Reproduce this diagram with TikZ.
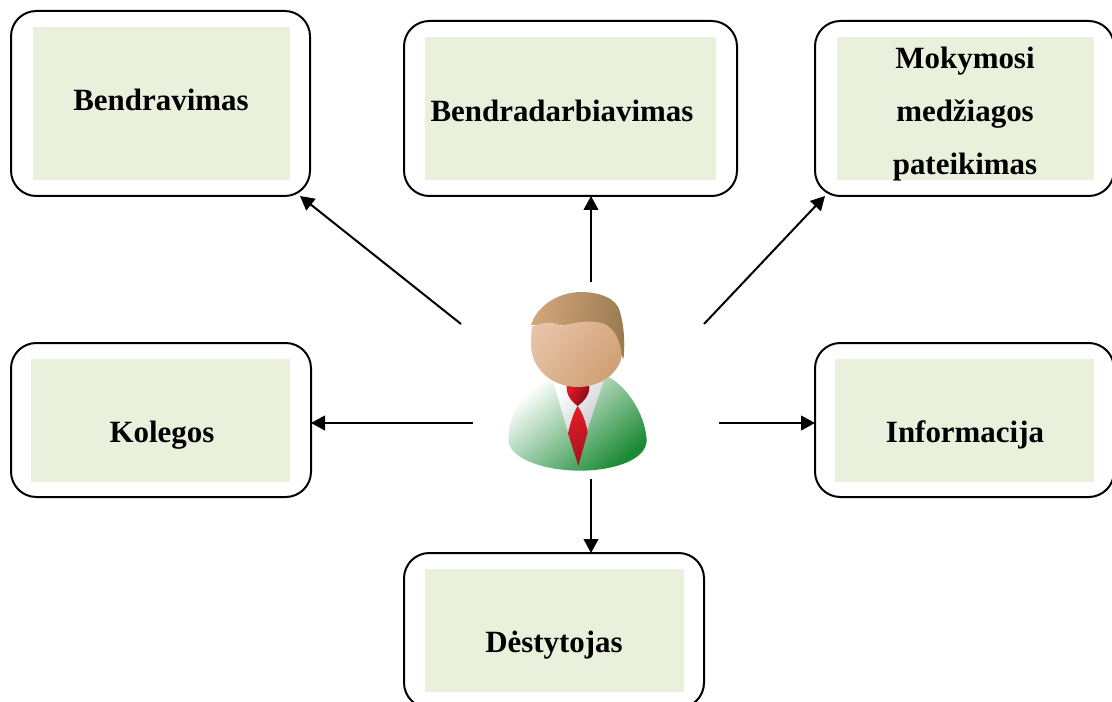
\documentclass[tikz,border=0pt]{standalone}
\usepackage{fontspec}
\setmainfont{Liberation Serif}
\usetikzlibrary{arrows.meta,calc}
\definecolor{innerfill}{HTML}{E9F0DC}
\definecolor{suit}{HTML}{1A8A34}
\definecolor{collargrey}{HTML}{B8BAC0}
\definecolor{tiedark}{HTML}{7E0A14}
\definecolor{tielight}{HTML}{E01A28}
\definecolor{tiemid}{HTML}{A81520}
\definecolor{hairlight}{HTML}{D2A67C}
\definecolor{hairdark}{HTML}{9A7A50}
\definecolor{facelight}{HTML}{E6C2A6}
\definecolor{facedark}{HTML}{CFA074}
\tikzset{
  outerbox/.style={draw=black,line width=1.5pt,rounded corners=19pt,fill=white,inner sep=0pt,outer sep=0pt},
  innerbox/.style={fill=innerfill,inner sep=0pt,outer sep=0pt},
  boxlabel/.style={font=\fontsize{23.2}{40}\selectfont\bfseries,align=center,inner sep=0pt,text=black},
  conn/.style={line width=1.5pt,-{Triangle[length=10.5pt,width=11pt]}}
}
\newcommand{\boxat}[5]{% name x0 y0 x1 y1
  \node[outerbox,minimum width={(#4-#2)*0.75pt},minimum height={(#5-#3)*0.75pt}] (#1) at ({(#2+#4)/2},{(#3+#5)/2}) {};}
\newcommand{\fillat}[5]{%
  \node[innerbox,minimum width={(#4-#2)*0.75pt},minimum height={(#5-#3)*0.75pt}] (#1) at ({(#2+#4)/2},{(#3+#5)/2}) {};}
\begin{document}
\begin{tikzpicture}[x=0.75pt,y=-0.75pt]
\useasboundingbox (0,0) rectangle (1112,702);
\clip (0,0) rectangle (1112,702);
\boxat{b1}{11}{11}{310}{196}
\boxat{b2}{404}{21}{737}{196}
\boxat{b3}{815}{21}{1114}{196}
\boxat{b4}{11}{343}{311}{497}
\boxat{b5}{815}{343}{1114}{497}
\boxat{b6}{404}{553}{704}{708}
\fillat{f1}{33}{27}{290}{180}
\fillat{f2}{425}{37}{716}{180}
\fillat{f3}{837}{37}{1094}{180}
\fillat{f4}{31}{359}{290}{482}
\fillat{f5}{835}{359}{1094}{482}
\fillat{f6}{425}{569}{684}{692}
\node[boxlabel] (l1) at (161,100) {Bendravimas};
\node[boxlabel] (l2) at (562,111) {Bendradarbiavimas};
\node[boxlabel] (l3) at (965,114) {Mokymosi\\medžiagos\\pateikimas};
\node[boxlabel] (l4) at (162,435) {Kolegos};
\node[boxlabel] (l5) at (965,435) {Informacija};
\node[boxlabel] (l6) at (554,645) {Dėstytojas};
% person
\begin{scope}[shift={(480,270)},x=0.25pt,y=-0.25pt]
  \shade[shading=axis,left color=white,right color=suit,shading angle=40]
    (190,325) .. controls (120,370) and (85,440) .. (85,515)
    .. controls (95,570) and (200,602) .. (300,602)
    .. controls (400,602) and (500,570) .. (500,510)
    .. controls (495,430) and (440,350) .. (385,320) -- cycle;
  \shade[shading=axis,left color=white,right color=collargrey,shading angle=50]
    (218,330) -- (372,330) -- (322,480) -- (295,560) -- (265,490) -- cycle;
  \shade[shading=axis,left color=tielight,right color=tiedark,shading angle=60]
    (260,348) -- (328,348) .. controls (330,375) and (310,395) .. (293,408)
    .. controls (275,395) and (258,375) .. (260,348) -- cycle;
  \shade[shading=axis,left color=tielight,right color=tiemid,shading angle=30]
    (293,408) .. controls (305,425) and (318,455) .. (323,487)
    -- (295,587) -- (264,490) .. controls (272,455) and (282,425) .. (293,408) -- cycle;
  \shade[shading=axis,left color=hairlight,right color=hairdark,shading angle=80]
    (153,165) .. controls (170,110) and (230,68) .. (300,66)
    .. controls (360,66) and (410,85) .. (420,125)
    .. controls (432,170) and (436,220) .. (430,268)
    .. controls (420,230) and (350,170) .. (240,165) -- cycle;
  \shade[shading=axis,left color=facelight,right color=facedark,shading angle=50]
    (157,170) .. controls (190,155) and (225,155) .. (243,167)
    .. controls (280,160) and (320,148) .. (370,160)
    .. controls (405,175) and (425,220) .. (425,262)
    .. controls (410,320) and (350,352) .. (290,351)
    .. controls (220,350) and (150,300) .. (153,215)
    .. controls (153,195) and (155,180) .. (157,170) -- cycle;
\end{scope}
% connectors
\coordinate (s1) at (461,324);
\coordinate (s2) at (591,282);
\coordinate (s3) at (704,324);
\coordinate (s4) at (473,423);
\coordinate (s5) at (719,423);
\coordinate (s6) at (591,479);
\draw[conn] (s1) -- ($(b1.south east)+(-10,0)$);
\draw[conn] (s2) -- (s2 |- b2.south);
\draw[conn] (s3) -- ($(b3.south west)+(10,0)$);
\draw[conn] (s4) -- (s4 -| b4.east);
\draw[conn] (s5) -- (s5 -| b5.west);
\draw[conn] (s6) -- (s6 |- b6.north);
\end{tikzpicture}
\end{document}
